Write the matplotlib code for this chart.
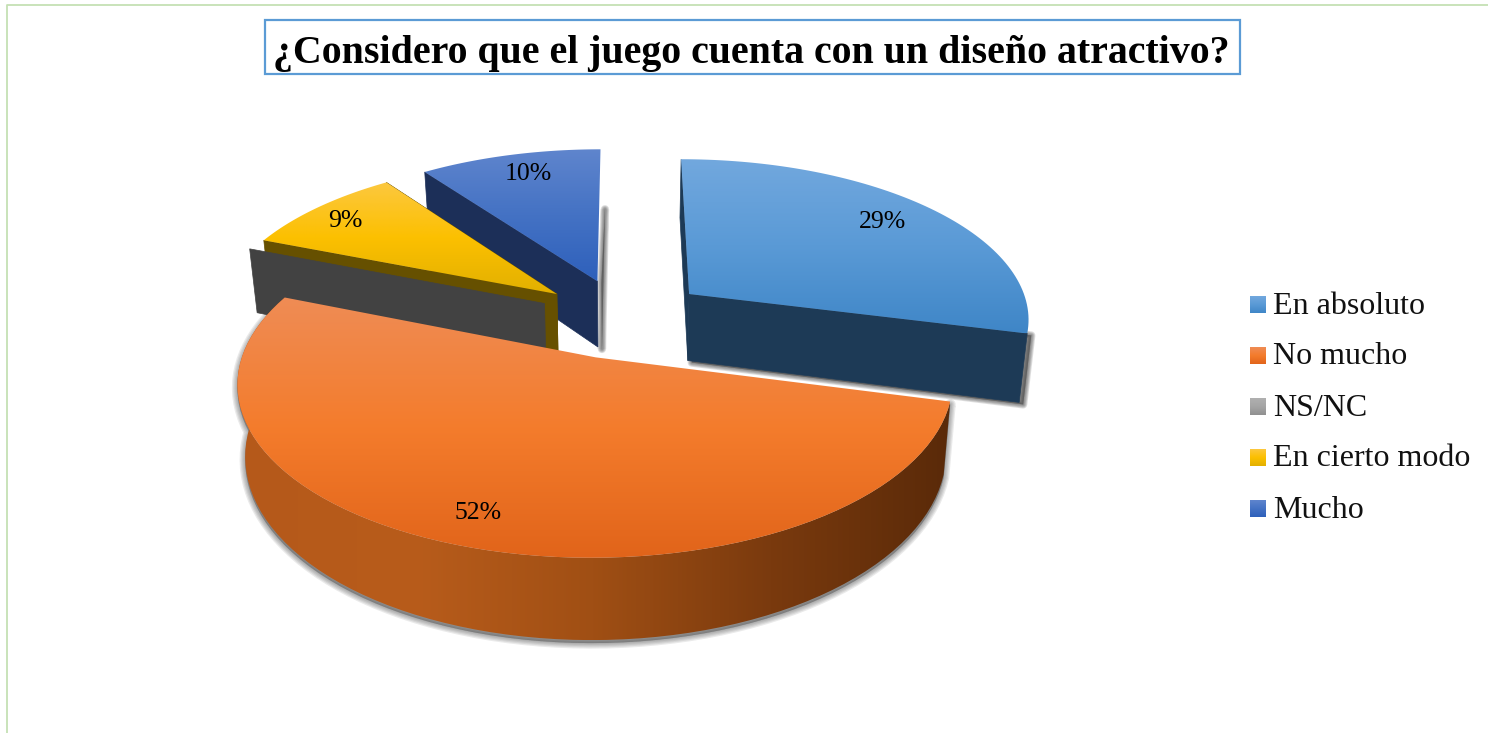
import numpy as np
import matplotlib
matplotlib.use('Agg')
import matplotlib.pyplot as plt
from matplotlib.colors import LinearSegmentedColormap
from matplotlib.patches import Polygon, Rectangle

# Chart data
title = '¿Considero que el juego cuenta con un diseño atractivo?'
categories = ['En absoluto', 'No mucho', 'NS/NC', 'En cierto modo', 'Mucho']
values = [29, 52, 0, 9, 10]
labels = ['29%', '52%', '', '9%', '10%']

# Pie geometry in pixels, the perspective is fitted to the picture
XC = 623.0
Y0 = 318.0
Y_HORIZON = -820.0
RX = 342.0
RY = 160.0
EXPLODE = 0.25
DEPTH = 68.0
DIST = (Y0 - Y_HORIZON) / RY
SQUEEZE = 0.98

top_cols = [['#72a8de', '#5a9ad6', '#3f86c7'],
            ['#ef8c55', '#f47c2c', '#e1641a'],
            ['#b0b0b0', '#a5a5a5', '#909090'],
            ['#fcc83f', '#fcc000', '#e2b000'],
            ['#5f85cd', '#4472c4', '#2e60bb']]
face_cols = ['#1d3a56', '#5a2a0a', '#424242', '#665000', '#1c2f58']

fig = plt.figure(figsize=(14.88, 7.33), dpi=100)
ax = fig.add_axes([0, 0, 1, 1])


def project(gx, gy, z=0.0):
    s = 1.0 / (1.0 + gy / DIST)
    x = XC + RX * gx * s
    y = Y_HORIZON + (Y0 - Y_HORIZON) * s
    if z > 0:
        x = XC + (x - XC) * (1 - (1 - SQUEEZE) * z)
        y = y + DEPTH * s * z
    return np.array([x, y])


def centre(span):
    mid = (span[0] + span[1]) / 2
    return EXPLODE * np.sin(mid), EXPLODE * np.cos(mid)


def rim(span, z=0.0, n=80):
    cx, cy = centre(span)
    th = np.linspace(span[0], span[1], n)
    return np.array([project(cx + np.sin(t), cy + np.cos(t), z) for t in th])


def top_poly(span):
    return np.vstack([project(*centre(span)), rim(span)])


def fill_grad(poly, colors, zorder, vertical=True):
    cmap = LinearSegmentedColormap.from_list('g', colors)
    xmin, ymin = poly.min(axis=0)
    xmax, ymax = poly.max(axis=0)
    grad = np.linspace(0, 1, 256)
    grad = grad[:, None] if vertical else grad[None, :]
    im = ax.imshow(grad, cmap=cmap, aspect='auto', origin='upper',
                   extent=(xmin, xmax, ymax, ymin), zorder=zorder, interpolation='bilinear')
    patch = Polygon(poly, closed=True, transform=ax.transData, fc='none', ec='none')
    ax.add_patch(patch)
    im.set_clip_path(patch)


def shadow(poly, zorder, dx=4, dy=2, width=6, alpha=0.17):
    for w in np.linspace(width, 1, 5):
        ax.add_patch(Polygon(poly + [dx, dy], closed=True, fc='#444444', ec='#444444',
                             lw=w, alpha=alpha, joinstyle='round', zorder=zorder))


def face_pts(a, span):
    cx, cy = centre(span)
    return np.array([project(cx, cy), project(cx + np.sin(a), cy + np.cos(a)),
                     project(cx + np.sin(a), cy + np.cos(a), 1), project(cx, cy, 1)])


def cut_face(a, span, col, zorder):
    pts = face_pts(a, span)
    ax.add_patch(Polygon(pts, closed=True, fc=col, ec=col, lw=0.5, zorder=zorder))
    return pts


cum = np.cumsum([0] + values) * 3.6
spans = [(np.radians(cum[i]), np.radians(cum[i + 1])) for i in range(len(values))]

# 10% slice
s = spans[4]
shadow(face_pts(s[1], s)[[0, 2, 3]], 1)
cut_face(s[0], s, face_cols[4], 3)
fill_grad(top_poly(s), top_cols[4], 4)

# 9% slice
s = spans[3]
cut_face(s[0], s, face_cols[3], 5)
cut_face(s[1], s, face_cols[3], 5)
fill_grad(top_poly(s), top_cols[3], 6)

# empty NS/NC slice, only its wall shows
s = spans[2]
cut_face(s[0], s, face_cols[2], 7)

# 29% slice
s = spans[0]
shadow(face_pts(s[1], s), 8)
cut_face(s[1], s, face_cols[0], 9)
cut_face(s[0], s, face_cols[0], 9)
fill_grad(top_poly(s), top_cols[0], 10)

# 52% slice
s = spans[1]
arc_top = rim(s)
wall = np.vstack([arc_top, rim(s, 1)[::-1]])
shadow(wall, 11, dx=0, dy=3, width=8, alpha=0.11)
fill_grad(wall, ['#b5591a', '#b85c1b', '#a04f14', '#7a3a0e', '#5a2a09'], 12, vertical=False)
fill_grad(top_poly(s), top_cols[1], 13)

# percentage labels
label_pos = [(882, 222), (478, 513), None, (345, 221), (528, 174)]
for i, lab in enumerate(labels):
    if lab:
        ax.text(label_pos[i][0], label_pos[i][1], lab, family='Liberation Serif', fontsize=18.5,
                color='black', ha='center', va='center', zorder=20)

# legend
leg_y = [304, 355, 406, 457, 508]
for i, name in enumerate(categories):
    y = leg_y[i]
    box = np.array([[1250, y - 8], [1266, y - 8], [1266, y + 9], [1250, y + 9]], dtype=float)
    fill_grad(box, top_cols[i], 20)
    ax.text(1273, y + 2, name, family='Liberation Serif', fontsize=23, color='#111111',
            ha='left', va='center', zorder=20)

# title box and chart border
ax.add_patch(Rectangle((264.5, 20), 975, 54, fc='white', ec='#5b9bd5', lw=1.6, zorder=21))
ax.text(751, 54, title, family='Liberation Serif', weight='bold', fontsize=28.7,
        color='black', ha='center', va='center', zorder=22)
ax.plot([7, 7, 1488], [733, 4.5, 4.5], color='#c5e0b4', lw=1.3, zorder=0)

ax.set_xlim(0, 1488)
ax.set_ylim(733, 0)
ax.axis('off')
fig.savefig('out.png', dpi=100, facecolor='white')
